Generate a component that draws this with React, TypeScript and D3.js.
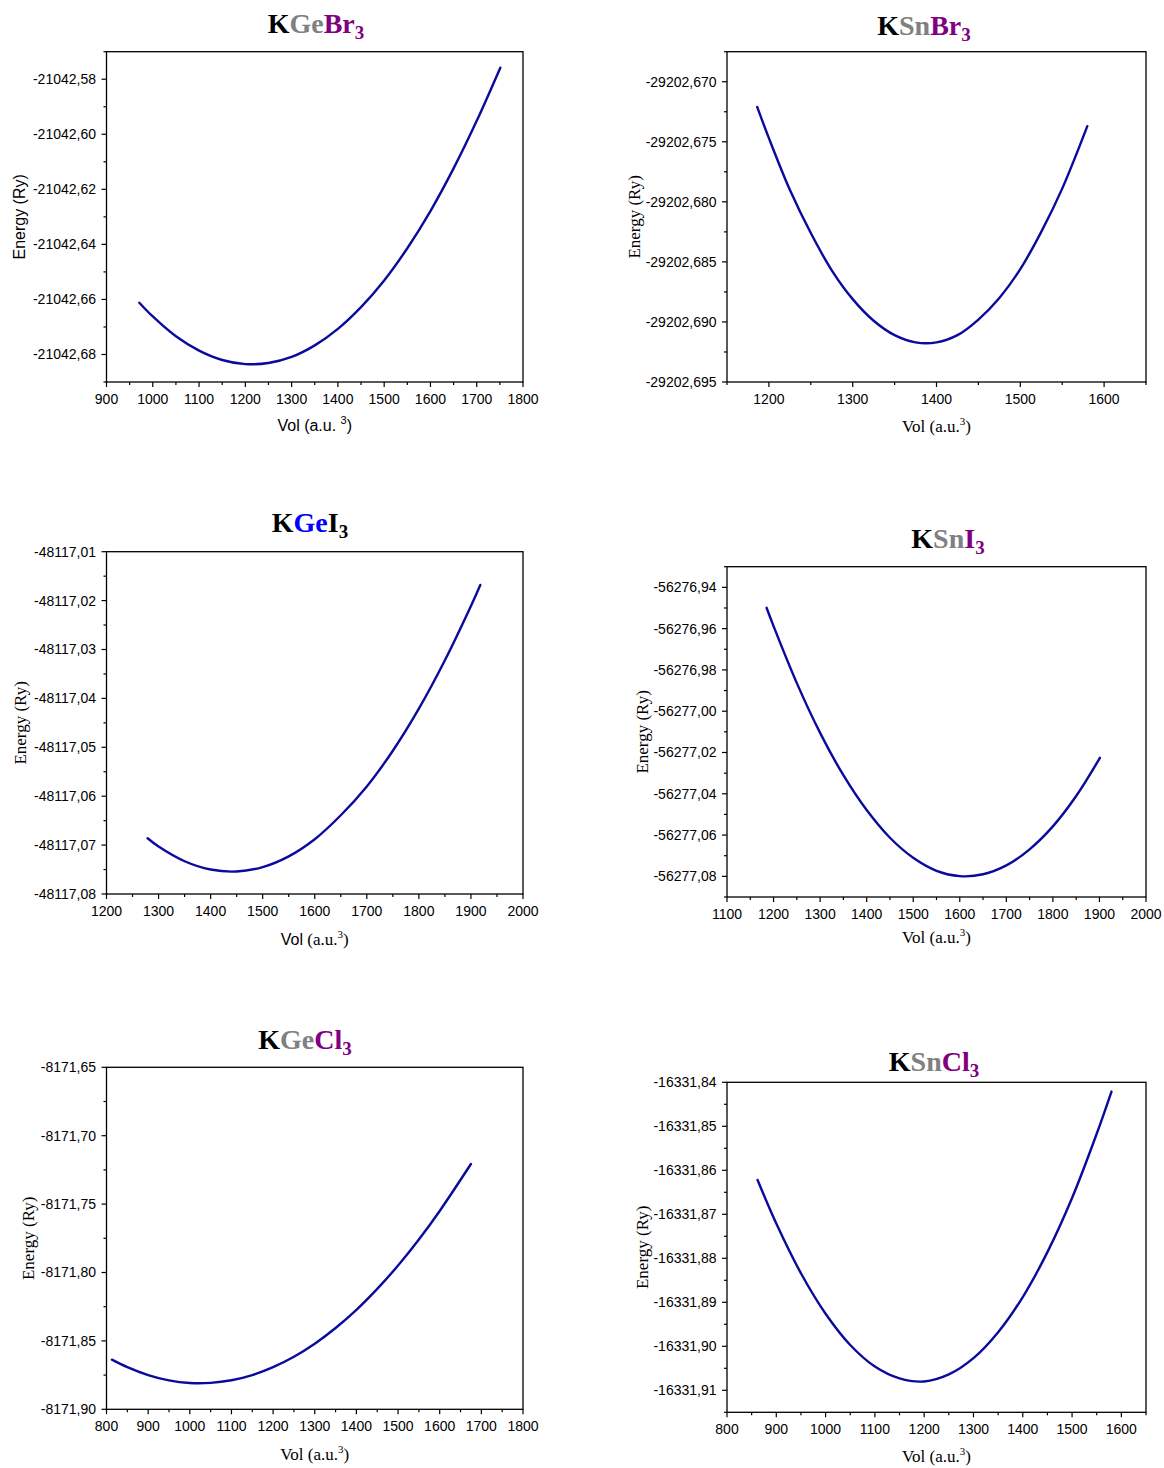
import React from 'react';
import * as d3 from 'd3';

// ---------- data ----------
const kgebr3Vol = [971, 1000, 1050, 1100, 1150, 1200, 1250, 1300, 1350, 1400, 1450, 1500, 1550, 1600, 1650, 1700, 1751];
const kgebr3Energy = [-21042.6612, -21042.6662, -21042.6734, -21042.6786, -21042.6820, -21042.6835, -21042.6831, -21042.6809, -21042.6767, -21042.6707, -21042.6628, -21042.6531, -21042.6414, -21042.6279, -21042.6124, -21042.5951, -21042.5758];
const kgebr3XTicks = [900, 1000, 1100, 1200, 1300, 1400, 1500, 1600, 1700, 1800];
const kgebr3YTicks = [-21042.58, -21042.60, -21042.62, -21042.64, -21042.66, -21042.68];

const ksnbr3Vol = [1186, 1200, 1225, 1250, 1275, 1300, 1325, 1350, 1375, 1400, 1425, 1450, 1475, 1500, 1525, 1550, 1580];
const ksnbr3Energy = [-29202.6721, -29202.6747, -29202.6790, -29202.6826, -29202.6857, -29202.6881, -29202.6899, -29202.6911, -29202.6917, -29202.6917, -29202.6911, -29202.6898, -29202.6880, -29202.6856, -29202.6825, -29202.6789, -29202.6737];
const ksnbr3XTicks = [1200, 1300, 1400, 1500, 1600];
const ksnbr3YTicks = [-29202.670, -29202.675, -29202.680, -29202.685, -29202.690, -29202.695];

const kgei3Vol = [1279, 1300, 1350, 1400, 1450, 1500, 1550, 1600, 1650, 1700, 1750, 1800, 1850, 1900, 1918];
const kgei3Energy = [-48117.0686, -48117.0703, -48117.0733, -48117.0750, -48117.0754, -48117.0745, -48117.0723, -48117.0688, -48117.0639, -48117.0580, -48117.0507, -48117.0421, -48117.0322, -48117.0211, -48117.0168];
const kgei3XTicks = [1200, 1300, 1400, 1500, 1600, 1700, 1800, 1900, 2000];
const kgei3YTicks = [-48117.01, -48117.02, -48117.03, -48117.04, -48117.05, -48117.06, -48117.07, -48117.08];

const ksni3Vol = [1185, 1200, 1250, 1300, 1350, 1400, 1450, 1500, 1550, 1600, 1650, 1700, 1750, 1800, 1850, 1901];
const ksni3Energy = [-56276.9499, -56276.9588, -56276.9864, -56277.0105, -56277.0310, -56277.0479, -56277.0613, -56277.0710, -56277.0773, -56277.0799, -56277.0790, -56277.0747, -56277.0669, -56277.0558, -56277.0411, -56277.0226];
const ksni3XTicks = [1100, 1200, 1300, 1400, 1500, 1600, 1700, 1800, 1900, 2000];
const ksni3YTicks = [-56276.94, -56276.96, -56276.98, -56277.00, -56277.02, -56277.04, -56277.06, -56277.08];

const kgecl3Vol = [813, 850, 900, 950, 1000, 1050, 1100, 1150, 1200, 1250, 1300, 1350, 1400, 1450, 1500, 1550, 1600, 1675];
const kgecl3Energy = [-8171.8637, -8171.8692, -8171.8750, -8171.8789, -8171.8808, -8171.8807, -8171.8788, -8171.8750, -8171.8692, -8171.8616, -8171.8521, -8171.8406, -8171.8273, -8171.8120, -8171.7949, -8171.7759, -8171.7550, -8171.7207];
const kgecl3XTicks = [800, 900, 1000, 1100, 1200, 1300, 1400, 1500, 1600, 1700, 1800];
const kgecl3YTicks = [-8171.65, -8171.70, -8171.75, -8171.80, -8171.85, -8171.90];

const ksncl3Vol = [862, 900, 950, 1000, 1050, 1100, 1150, 1200, 1250, 1300, 1350, 1400, 1450, 1500, 1550, 1580];
const ksncl3Energy = [-16331.8622, -16331.8721, -16331.8834, -16331.8926, -16331.8997, -16331.9046, -16331.9073, -16331.9080, -16331.9064, -16331.9027, -16331.8968, -16331.8888, -16331.8786, -16331.8663, -16331.8517, -16331.8421];
const ksncl3XTicks = [800, 900, 1000, 1100, 1200, 1300, 1400, 1500, 1600];
const ksncl3YTicks = [-16331.84, -16331.85, -16331.86, -16331.87, -16331.88, -16331.89, -16331.90, -16331.91];

// ---------- styling ----------
const SANS = "'Liberation Sans', Arial, sans-serif";
const SERIF = "'Liberation Serif', 'Times New Roman', serif";
const BLACK = '#000000';
const GRAY = '#808080';
const PURPLE = '#800080';
const BLUE = '#0000ff';
const LINE = '#0a0a9c';

type Seg = { t: string; c: string; sub?: boolean };

interface Cfg {
  vol: number[];
  energy: number[];
  xTicks: number[];
  yTicks: number[];
  xDomain: [number, number];
  yDomain: [number, number];
  xMinor: number;
  yMinor: number;
  yDec: number;
  left: number;
  right: number;
  top: number;
  bottom: number;
  title: Seg[];
  titleX: number;
  titleY: number;
  yLabX: number;
  xLabY: number;
  yLabFont: string;
  yLabSize: number;
  xLabStyle: 'sans' | 'serif' | 'mixed';
}

const LEFT_COL = { left: 106.5, right: 523 };
const RIGHT_COL = { left: 727, right: 1146 };

const panels: Cfg[] = [
  {
    vol: kgebr3Vol, energy: kgebr3Energy, xTicks: kgebr3XTicks, yTicks: kgebr3YTicks,
    xDomain: [900, 1800], yDomain: [-21042.69, -21042.57], xMinor: 50, yMinor: 0.01, yDec: 2,
    ...LEFT_COL, top: 51.7, bottom: 382,
    title: [{ t: 'K', c: BLACK }, { t: 'Ge', c: GRAY }, { t: 'Br', c: PURPLE }, { t: '3', c: PURPLE, sub: true }],
    titleX: 316, titleY: 33, yLabX: 19, xLabY: 431, yLabFont: SANS, yLabSize: 16, xLabStyle: 'sans',
  },
  {
    vol: ksnbr3Vol, energy: ksnbr3Energy, xTicks: ksnbr3XTicks, yTicks: ksnbr3YTicks,
    xDomain: [1150, 1650], yDomain: [-29202.695, -29202.6675], xMinor: 50, yMinor: 0.0025, yDec: 3,
    ...RIGHT_COL, top: 51.7, bottom: 382,
    title: [{ t: 'K', c: BLACK }, { t: 'Sn', c: GRAY }, { t: 'Br', c: PURPLE }, { t: '3', c: PURPLE, sub: true }],
    titleX: 924, titleY: 35, yLabX: 634, xLabY: 432, yLabFont: SERIF, yLabSize: 17, xLabStyle: 'serif',
  },
  {
    vol: kgei3Vol, energy: kgei3Energy, xTicks: kgei3XTicks, yTicks: kgei3YTicks,
    xDomain: [1200, 2000], yDomain: [-48117.08, -48117.01], xMinor: 50, yMinor: 0.005, yDec: 2,
    ...LEFT_COL, top: 551.7, bottom: 894,
    title: [{ t: 'K', c: BLACK }, { t: 'Ge', c: BLUE }, { t: 'I', c: BLACK }, { t: '3', c: BLACK, sub: true }],
    titleX: 310, titleY: 532, yLabX: 20, xLabY: 945, yLabFont: SERIF, yLabSize: 17, xLabStyle: 'mixed',
  },
  {
    vol: ksni3Vol, energy: ksni3Energy, xTicks: ksni3XTicks, yTicks: ksni3YTicks,
    xDomain: [1100, 2000], yDomain: [-56277.09, -56276.93], xMinor: 50, yMinor: 0.01, yDec: 2,
    ...RIGHT_COL, top: 566.7, bottom: 897,
    title: [{ t: 'K', c: BLACK }, { t: 'Sn', c: GRAY }, { t: 'I', c: PURPLE }, { t: '3', c: PURPLE, sub: true }],
    titleX: 948, titleY: 548, yLabX: 642, xLabY: 943, yLabFont: SERIF, yLabSize: 17, xLabStyle: 'serif',
  },
  {
    vol: kgecl3Vol, energy: kgecl3Energy, xTicks: kgecl3XTicks, yTicks: kgecl3YTicks,
    xDomain: [800, 1800], yDomain: [-8171.90, -8171.65], xMinor: 50, yMinor: 0.025, yDec: 2,
    ...LEFT_COL, top: 1067.3, bottom: 1409.3,
    title: [{ t: 'K', c: BLACK }, { t: 'Ge', c: GRAY }, { t: 'Cl', c: PURPLE }, { t: '3', c: PURPLE, sub: true }],
    titleX: 305, titleY: 1049, yLabX: 28, xLabY: 1460, yLabFont: SERIF, yLabSize: 17, xLabStyle: 'serif',
  },
  {
    vol: ksncl3Vol, energy: ksncl3Energy, xTicks: ksncl3XTicks, yTicks: ksncl3YTicks,
    xDomain: [800, 1650], yDomain: [-16331.915, -16331.84], xMinor: 50, yMinor: 0.005, yDec: 2,
    ...RIGHT_COL, top: 1082.3, bottom: 1412.3,
    title: [{ t: 'K', c: BLACK }, { t: 'Sn', c: GRAY }, { t: 'Cl', c: PURPLE }, { t: '3', c: PURPLE, sub: true }],
    titleX: 934, titleY: 1071, yLabX: 642, xLabY: 1462, yLabFont: SERIF, yLabSize: 17, xLabStyle: 'serif',
  },
];

function minorTicks(domain: [number, number], majors: number[], step: number): number[] {
  const a = Math.min(domain[0], domain[1]);
  const b = Math.max(domain[0], domain[1]);
  const n = Math.round((b - a) / step);
  const out: number[] = [];
  for (let i = 0; i <= n; i++) {
    const v = a + i * step;
    if (!majors.some((m) => Math.abs(m - v) < step / 10)) out.push(v);
  }
  return out;
}

function Panel({ cfg }: { cfg: Cfg }) {
  const x = d3.scaleLinear().domain(cfg.xDomain).range([cfg.left, cfg.right]);
  const y = d3.scaleLinear().domain(cfg.yDomain).range([cfg.bottom, cfg.top]);
  const pts: [number, number][] = cfg.vol.map((v, i) => [v, cfg.energy[i]]);
  const line = d3
    .line<[number, number]>()
    .x((d) => x(d[0]))
    .y((d) => y(d[1]))
    .curve(d3.curveCatmullRom.alpha(0.5));
  const xMin = minorTicks(cfg.xDomain, cfg.xTicks, cfg.xMinor);
  const yMin = minorTicks(cfg.yDomain, cfg.yTicks, cfg.yMinor);
  const fmt = (v: number) => v.toFixed(cfg.yDec).replace('.', ',');
  const cx = (cfg.left + cfg.right) / 2;
  const cy = (cfg.top + cfg.bottom) / 2;
  const MAJ = 5;
  const MIN = 3;

  const xLabel = () => {
    if (cfg.xLabStyle === 'sans') {
      return (
        <text x={cx} y={cfg.xLabY} textAnchor="middle" fontFamily={SANS} fontSize={16} fill="#000">
          Vol (a.u. <tspan fontSize={11} dy={-7}>3</tspan><tspan dy={7}>)</tspan>
        </text>
      );
    }
    if (cfg.xLabStyle === 'mixed') {
      return (
        <text x={cx} y={cfg.xLabY} textAnchor="middle" fontFamily={SERIF} fontSize={17} fill="#000">
          <tspan fontFamily={SANS} fontSize={16}>Vol</tspan> (a.u.<tspan fontSize={11} dy={-7}>3</tspan><tspan dy={7}>)</tspan>
        </text>
      );
    }
    return (
      <text x={cx} y={cfg.xLabY} textAnchor="middle" fontFamily={SERIF} fontSize={17} fill="#000">
        Vol (a.u.<tspan fontSize={11} dy={-7}>3</tspan><tspan dy={7}>)</tspan>
      </text>
    );
  };

  return (
    <g>
      {/* title */}
      <text x={cfg.titleX} y={cfg.titleY} textAnchor="middle" fontFamily={SERIF} fontWeight="bold" fontSize={28}>
        {cfg.title.map((s, i) =>
          s.sub ? (
            <tspan key={i} fill={s.c} fontSize={19} dy={6}>{s.t}</tspan>
          ) : (
            <tspan key={i} fill={s.c}>{s.t}</tspan>
          )
        )}
      </text>

      {/* curve */}
      <path d={line(pts) || ''} fill="none" stroke={LINE} strokeWidth={2.4} strokeLinecap="round" />

      {/* frame */}
      <rect x={cfg.left} y={cfg.top} width={cfg.right - cfg.left} height={cfg.bottom - cfg.top} fill="none" stroke="#000" strokeWidth={1.3} />

      {/* x ticks */}
      {cfg.xTicks.map((t) => (
        <g key={'xt' + t}>
          <line x1={x(t)} x2={x(t)} y1={cfg.bottom} y2={cfg.bottom + MAJ} stroke="#000" strokeWidth={1.2} />
          <text x={x(t)} y={cfg.bottom + 22} textAnchor="middle" fontFamily={SANS} fontSize={14} fill="#000">
            {t}
          </text>
        </g>
      ))}
      {xMin.map((t) => (
        <line key={'xm' + t} x1={x(t)} x2={x(t)} y1={cfg.bottom} y2={cfg.bottom + MIN} stroke="#000" strokeWidth={1.2} />
      ))}

      {/* y ticks */}
      {cfg.yTicks.map((t) => (
        <g key={'yt' + t}>
          <line x1={cfg.left - MAJ} x2={cfg.left} y1={y(t)} y2={y(t)} stroke="#000" strokeWidth={1.2} />
          <text x={cfg.left - 10.5} y={y(t)} dy="0.35em" textAnchor="end" fontFamily={SANS} fontSize={14} fill="#000">
            {fmt(t)}
          </text>
        </g>
      ))}
      {yMin.map((t, i) => (
        <line key={'ym' + i} x1={cfg.left - MIN} x2={cfg.left} y1={y(t)} y2={y(t)} stroke="#000" strokeWidth={1.2} />
      ))}

      {/* axis labels */}
      <text
        transform={`translate(${cfg.yLabX},${cy}) rotate(-90)`}
        textAnchor="middle"
        dy="0.35em"
        fontFamily={cfg.yLabFont}
        fontSize={cfg.yLabSize}
        fill="#000"
      >
        Energy (Ry)
      </text>
      {xLabel()}
    </g>
  );
}

export default function App() {
  return (
    <svg
      width={1164}
      height={1468}
      viewBox="0 0 1164 1468"
      style={{ position: 'absolute', left: 0, top: 0, background: '#fff' }}
    >
      <rect x={0} y={0} width={1164} height={1468} fill="#fff" />
      {panels.map((p, i) => (
        <Panel key={i} cfg={p} />
      ))}
    </svg>
  );
}
